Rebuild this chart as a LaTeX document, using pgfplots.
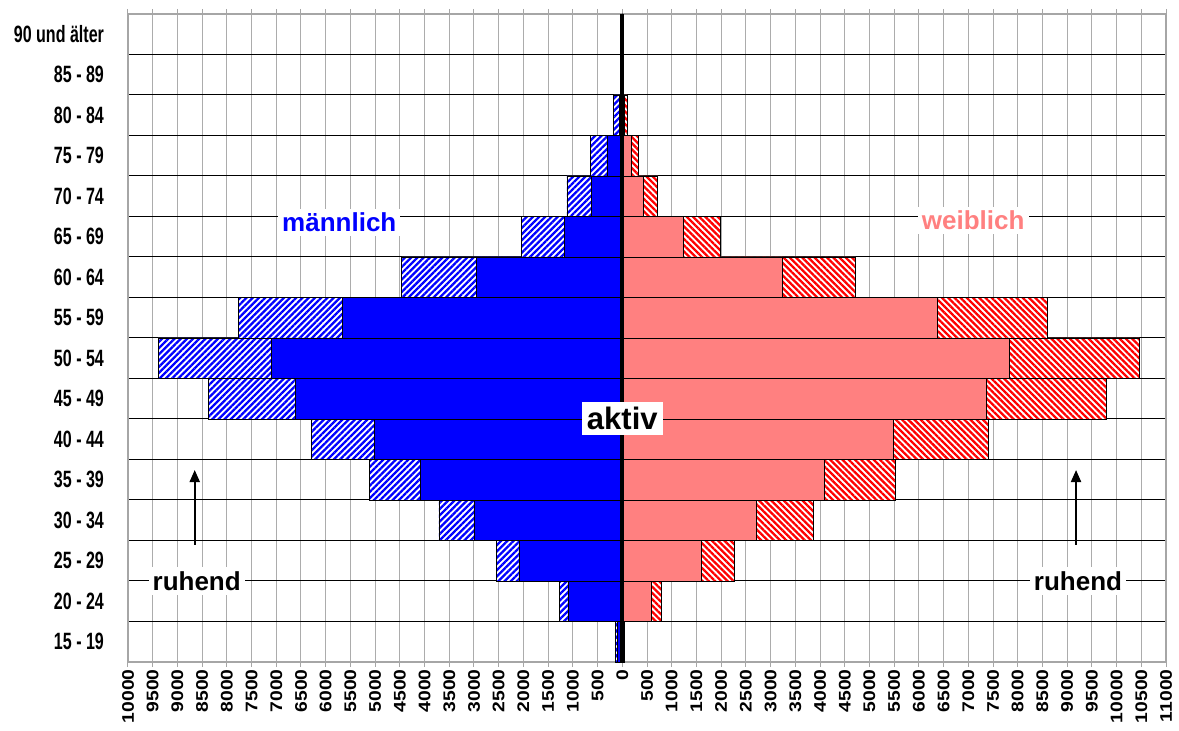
\documentclass[border=0pt]{standalone}
\usepackage{fontspec}
\setmainfont{Liberation Sans}
\usepackage{graphicx}
\usepackage{pgfplots}
\usepackage{pgfplotstable}
\pgfplotsset{compat=1.18}
\usetikzlibrary{patterns.meta, arrows.meta}
\definecolor{mblue}{RGB}{0,0,255}
\definecolor{wpink}{RGB}{255,128,128}
\definecolor{wred}{RGB}{255,0,0}

% y = age group index, ms = male active, mt = male total, fs = female active, ft = female total
\pgfplotstableread{
y ms mt fs ft
0 -100 -130 30 40
1 -1100 -1270 580 800
2 -2090 -2550 1600 2270
3 -3000 -3710 2720 3870
4 -4090 -5110 4090 5520
5 -5020 -6280 5480 7410
6 -6610 -8380 7370 9800
7 -7100 -9390 7840 10460
8 -5670 -7760 6380 8610
9 -2950 -4460 3230 4720
10 -1170 -2040 1230 1980
11 -620 -1120 430 720
12 -310 -640 180 320
13 -60 -170 50 100
14 -20 -40 10 20
15 0 0 0 0
}\data

\newcommand\yl[1]{\scalebox{0.68}[1]{#1}}
\newcommand\xl[1]{\scalebox{1.15}[1]{#1}}

\begin{document}
\begin{tikzpicture}
\pgfplotsset{mybar/.style={bar shift=0pt, bar width=1}}
\begin{axis}[name=ax,
  scale only axis, width=519pt, height=324pt,
  xbar,
  xmin=-10000, xmax=11000, ymin=-0.5, ymax=15.5,
  xtick={-10000,-9500,-9000,-8500,-8000,-7500,-7000,-6500,-6000,-5500,-5000,-4500,-4000,-3500,-3000,-2500,-2000,-1500,-1000,-500,0,500,1000,1500,2000,2500,3000,3500,4000,4500,5000,5500,6000,6500,7000,7500,8000,8500,9000,9500,10000,10500,11000},
  xticklabels={\xl{10000},\xl{9500},\xl{9000},\xl{8500},\xl{8000},\xl{7500},\xl{7000},\xl{6500},\xl{6000},\xl{5500},\xl{5000},\xl{4500},\xl{4000},\xl{3500},\xl{3000},\xl{2500},\xl{2000},\xl{1500},\xl{1000},\xl{500},\xl{0},\xl{500},\xl{1000},\xl{1500},\xl{2000},\xl{2500},\xl{3000},\xl{3500},\xl{4000},\xl{4500},\xl{5000},\xl{5500},\xl{6000},\xl{6500},\xl{7000},\xl{7500},\xl{8000},\xl{8500},\xl{9000},\xl{9500},\xl{10000},\xl{10500},\xl{11000}},
  xticklabel style={rotate=90, anchor=east, font=\bfseries\fontsize{8.4}{9}\selectfont, inner sep=1pt},
  ytick={0,...,15},
  yticklabels={\yl{15 - 19},\yl{20 - 24},\yl{25 - 29},\yl{30 - 34},\yl{35 - 39},\yl{40 - 44},\yl{45 - 49},\yl{50 - 54},\yl{55 - 59},\yl{60 - 64},\yl{65 - 69},\yl{70 - 74},\yl{75 - 79},\yl{80 - 84},\yl{85 - 89},\yl{90 und älter}},
  yticklabel style={font=\bfseries\fontsize{11.8}{13}\selectfont, xshift=-6pt},
  minor ytick={0.5,1.5,...,14.5},
  xmajorgrids, yminorgrids,
  major grid style={gray!65, line width=0.5pt},
  minor grid style={black, line width=0.5pt},
  axis line style={gray!70, line width=0.6pt},
  tick align=outside,
  major tick length=2.5pt, minor tick length=0pt,
  xtick style={gray!70, line width=0.5pt},
  ytick style={draw=none},
  clip=false,
]
% male
\addplot[mybar, fill=white, draw=none] table[x=mt,y=y]{\data};
\addplot[mybar, draw=black, line width=0.4pt, pattern={Lines[angle=45,distance=2.2pt,line width=1.15pt]}, pattern color=mblue] table[x=mt,y=y]{\data};
\addplot[mybar, fill=mblue, draw=black, line width=0.4pt] table[x=ms,y=y]{\data};
% female
\addplot[mybar, fill=white, draw=none] table[x=ft,y=y]{\data};
\addplot[mybar, draw=black, line width=0.4pt, pattern={Lines[angle=-45,distance=2.2pt,line width=1.15pt]}, pattern color=wred] table[x=ft,y=y]{\data};
\addplot[mybar, fill=wpink, draw=black, line width=0.4pt] table[x=fs,y=y]{\data};

\draw[line width=2pt] (axis cs:0,-0.5) -- (axis cs:0,15.5);

\node[fill=white, text=mblue, font=\bfseries\fontsize{13}{15}\selectfont, inner sep=2pt] at (axis cs:-5725,10.36) {männlich};
\node[fill=white, text=wpink, font=\bfseries\fontsize{13}{15}\selectfont, inner sep=2pt] at (axis cs:7100,10.4) {weiblich};
\node[fill=white, font=\bfseries\fontsize{15.5}{17}\selectfont, inner sep=2.5pt] at (axis cs:0,5.52) {aktiv};
\node[fill=white, font=\bfseries\fontsize{13}{15}\selectfont, inner sep=2pt] at (axis cs:-8610,1.5) {ruhend};
\node[fill=white, font=\bfseries\fontsize{13}{15}\selectfont, inner sep=2pt] at (axis cs:9220,1.5) {ruhend};
\draw[-{Triangle[length=6pt,width=5pt]}, line width=1pt] (axis cs:-8650,2.39) -- (axis cs:-8650,4.24);
\draw[-{Triangle[length=6pt,width=5pt]}, line width=1pt] (axis cs:9180,2.39) -- (axis cs:9180,4.24);
\end{axis}
\pgfresetboundingbox
\path[use as bounding box] ([xshift=-64pt,yshift=-34.5pt]ax.south west) rectangle ([xshift=6.5pt,yshift=7pt]ax.north east);
\end{tikzpicture}
\end{document}
